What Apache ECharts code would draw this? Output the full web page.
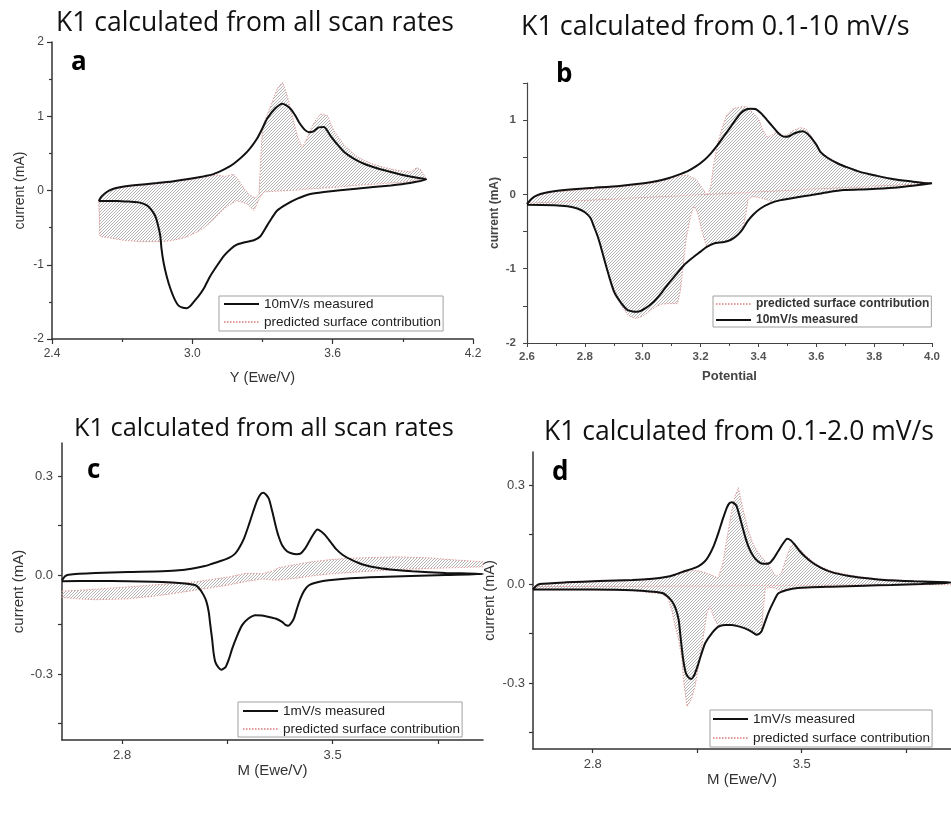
<!DOCTYPE html>
<html>
<head>
<meta charset="utf-8">
<script src="https://cdn.jsdelivr.net/npm/echarts@6/dist/echarts.min.js"></script>
<style>
  html, body { margin: 0; padding: 0; background: #fff; overflow: hidden; }
  #chart { width: 951px; height: 819px; }
</style>
</head>
<body>
<div id="chart"></div>
<script>
// ---- Cyclic voltammograms: measured loop [potential V, current mA] ----
const aMeasured = [
  [2.600,-0.14],[2.612,-0.08],[2.634,-0.02],[2.660,0.02],[2.690,0.045],[2.750,0.07],[2.849,0.10],[2.920,0.125],
  [2.990,0.157],[3.040,0.185],[3.090,0.22],[3.140,0.29],[3.177,0.36],[3.234,0.52],[3.277,0.70],[3.300,0.84],
  [3.320,0.97],[3.356,1.11],[3.385,1.17],[3.400,1.15],[3.420,1.10],[3.440,1.01],[3.456,0.92],[3.480,0.82],
  [3.499,0.785],[3.520,0.80],[3.540,0.85],[3.563,0.855],[3.590,0.74],[3.620,0.62],[3.649,0.52],[3.690,0.43],
  [3.734,0.36],[3.790,0.30],[3.849,0.25],[3.920,0.195],[3.990,0.157],[4.000,0.15],
  [3.930,0.10],[3.849,0.067],[3.700,0.025],[3.563,-0.02],[3.500,-0.05],[3.449,-0.11],[3.400,-0.19],[3.363,-0.27],
  [3.340,-0.37],[3.320,-0.47],[3.290,-0.62],[3.263,-0.67],[3.220,-0.70],[3.190,-0.73],[3.163,-0.79],[3.135,-0.88],
  [3.106,-1.01],[3.075,-1.16],[3.049,-1.32],[3.025,-1.43],[3.006,-1.50],[2.990,-1.56],[2.977,-1.585],[2.960,-1.58],
  [2.941,-1.55],[2.925,-1.47],[2.906,-1.32],[2.890,-1.15],[2.877,-0.97],[2.868,-0.78],[2.863,-0.61],[2.852,-0.45],
  [2.841,-0.34],[2.825,-0.26],[2.806,-0.20],[2.770,-0.16],[2.734,-0.15],[2.680,-0.14],[2.600,-0.14]
];
const aPredicted = [
  [2.600,-0.14],[2.612,-0.09],[2.634,-0.03],[2.660,0.01],[2.690,0.035],[2.750,0.06],[2.849,0.09],[2.950,0.13],
  [3.040,0.17],[3.100,0.21],[3.140,0.19],[3.177,0.22],[3.200,0.13],[3.220,0.03],[3.245,-0.06],[3.270,-0.10],
  [3.285,-0.05],[3.292,0.40],[3.300,0.85],[3.320,1.02],[3.340,1.18],[3.363,1.37],[3.385,1.46],[3.400,1.34],
  [3.420,1.10],[3.434,0.92],[3.450,0.72],[3.470,0.58],[3.490,0.70],[3.506,0.83],[3.530,0.96],[3.549,1.03],
  [3.577,1.01],[3.606,0.80],[3.649,0.61],[3.706,0.45],[3.760,0.37],[3.820,0.31],[3.880,0.27],[3.934,0.25],
  [3.960,0.31],[3.977,0.28],[4.000,0.16],
  [3.900,0.11],[3.800,0.09],[3.706,0.07],[3.600,0.04],[3.500,0.02],[3.420,0.00],[3.350,-0.01],[3.306,-0.02],
  [3.290,-0.09],[3.263,-0.27],[3.234,-0.18],[3.190,-0.135],[3.160,-0.19],[3.134,-0.25],[3.100,-0.36],[3.077,-0.43],
  [3.050,-0.50],[3.020,-0.56],[2.980,-0.62],[2.949,-0.65],[2.900,-0.68],[2.849,-0.69],[2.780,-0.69],[2.706,-0.67],
  [2.650,-0.64],[2.606,-0.62],[2.600,-0.60],[2.600,-0.14]
];

const bMeasured = [
  [2.600,-0.13],[2.615,-0.06],[2.636,-0.01],[2.660,0.02],[2.693,0.044],[2.760,0.07],[2.832,0.09],[2.920,0.115],
  [3.004,0.15],[3.050,0.18],[3.085,0.215],[3.120,0.26],[3.154,0.31],[3.185,0.38],[3.212,0.46],[3.235,0.55],
  [3.258,0.66],[3.280,0.78],[3.304,0.91],[3.320,1.00],[3.338,1.09],[3.355,1.14],[3.373,1.155],[3.390,1.15],
  [3.410,1.09],[3.430,1.00],[3.450,0.91],[3.465,0.84],[3.480,0.79],[3.494,0.775],[3.510,0.79],[3.523,0.82],
  [3.552,0.85],[3.565,0.83],[3.580,0.775],[3.600,0.67],[3.615,0.57],[3.640,0.49],[3.673,0.42],[3.710,0.36],
  [3.753,0.30],[3.810,0.25],[3.868,0.205],[3.930,0.175],[3.984,0.15],[4.000,0.15],
  [3.940,0.12],[3.868,0.09],[3.780,0.07],[3.696,0.058],[3.640,0.03],[3.580,-0.01],[3.530,-0.04],[3.477,-0.077],
  [3.440,-0.12],[3.407,-0.19],[3.380,-0.28],[3.361,-0.37],[3.345,-0.47],[3.327,-0.55],[3.305,-0.61],[3.281,-0.64],
  [3.246,-0.66],[3.220,-0.71],[3.200,-0.77],[3.170,-0.86],[3.143,-0.95],[3.115,-1.08],[3.085,-1.22],[3.060,-1.35],
  [3.039,-1.44],[3.010,-1.53],[2.981,-1.58],[2.965,-1.575],[2.947,-1.555],[2.925,-1.46],[2.901,-1.31],[2.885,-1.12],
  [2.866,-0.86],[2.855,-0.70],[2.843,-0.55],[2.830,-0.42],[2.820,-0.32],[2.800,-0.24],[2.774,-0.19],[2.740,-0.16],
  [2.693,-0.145],[2.600,-0.14]
];
const bPredicted = [
  [2.600,-0.13],[2.615,-0.07],[2.636,-0.02],[2.660,0.01],[2.693,0.03],[2.760,0.055],[2.832,0.075],[2.920,0.10],
  [3.004,0.135],[3.050,0.165],[3.085,0.20],[3.120,0.245],[3.154,0.26],[3.185,0.20],[3.205,0.09],[3.223,-0.01],
  [3.235,0.10],[3.245,0.40],[3.260,0.70],[3.275,0.90],[3.290,1.07],[3.310,1.15],[3.338,1.18],[3.360,1.18],
  [3.380,1.10],[3.400,1.02],[3.415,0.87],[3.430,0.775],[3.445,0.79],[3.460,0.84],[3.480,0.80],[3.494,0.79],
  [3.520,0.86],[3.545,0.90],[3.565,0.88],[3.580,0.80],[3.600,0.68],[3.615,0.58],[3.640,0.50],[3.673,0.43],
  [3.710,0.365],[3.753,0.305],[3.810,0.255],[3.868,0.21],[3.930,0.178],[4.000,0.152],
  [3.940,0.12],[3.868,0.09],[3.780,0.07],[3.696,0.058],[3.640,0.03],[3.580,-0.01],[3.530,-0.04],[3.477,-0.077],
  [3.450,-0.10],[3.420,-0.06],[3.400,-0.04],[3.380,-0.03],[3.365,-0.06],[3.355,-0.30],[3.345,-0.47],[3.327,-0.55],
  [3.305,-0.61],[3.281,-0.64],[3.246,-0.66],[3.220,-0.69],[3.205,-0.50],[3.190,-0.25],[3.177,-0.16],[3.165,-0.30],
  [3.150,-0.60],[3.140,-0.95],[3.130,-1.30],[3.120,-1.47],[3.090,-1.47],[3.060,-1.48],[3.030,-1.55],[3.000,-1.64],
  [2.975,-1.67],[2.950,-1.63],[2.930,-1.52],[2.910,-1.36],[2.885,-1.12],[2.866,-0.86],[2.855,-0.70],[2.843,-0.55],
  [2.830,-0.42],[2.820,-0.32],[2.800,-0.24],[2.774,-0.19],[2.740,-0.16],[2.693,-0.145],[2.600,-0.14]
];
const bSweepLine = [[2.600,-0.12],[4.000,0.15]];

const cMeasured = [
  [2.600,-0.016],[2.610,-0.004],[2.622,0.001],[2.711,0.006],[2.820,0.009],[2.933,0.011],[3.000,0.015],[3.044,0.021],
  [3.075,0.027],[3.099,0.034],[3.130,0.043],[3.155,0.052],[3.175,0.064],[3.188,0.080],[3.205,0.11],[3.221,0.151],
  [3.235,0.19],[3.249,0.226],[3.260,0.244],[3.269,0.249],[3.278,0.244],[3.288,0.231],[3.300,0.19],[3.310,0.151],
  [3.320,0.118],[3.332,0.09],[3.348,0.072],[3.365,0.065],[3.380,0.063],[3.393,0.065],[3.408,0.08],[3.421,0.10],
  [3.435,0.122],[3.449,0.138],[3.462,0.132],[3.476,0.12],[3.493,0.10],[3.510,0.08],[3.535,0.06],[3.565,0.045],
  [3.600,0.032],[3.654,0.021],[3.710,0.015],[3.765,0.011],[3.876,0.006],[3.975,0.004],[4.000,0.003],
  [3.876,0.000],[3.760,-0.003],[3.654,-0.006],[3.560,-0.010],[3.487,-0.016],[3.450,-0.022],[3.421,-0.031],[3.405,-0.048],
  [3.393,-0.071],[3.382,-0.10],[3.371,-0.132],[3.360,-0.148],[3.352,-0.154],[3.343,-0.151],[3.332,-0.142],[3.310,-0.132],
  [3.288,-0.127],[3.265,-0.123],[3.243,-0.122],[3.220,-0.132],[3.199,-0.152],[3.182,-0.185],[3.166,-0.223],[3.155,-0.255],
  [3.144,-0.279],[3.130,-0.287],[3.120,-0.28],[3.110,-0.264],[3.104,-0.235],[3.099,-0.193],[3.093,-0.15],[3.088,-0.112],
  [3.080,-0.08],[3.071,-0.061],[3.058,-0.043],[3.044,-0.031],[3.000,-0.025],[2.933,-0.021],[2.820,-0.019],[2.711,-0.018],
  [2.600,-0.019]
];
const cPredicted = [
  [2.600,-0.049],[2.711,-0.043],[2.822,-0.036],[2.933,-0.028],[3.044,-0.021],[3.100,-0.013],[3.155,-0.006],[3.210,0.005],
  [3.266,0.004],[3.300,0.012],[3.321,0.022],[3.377,0.032],[3.430,0.040],[3.487,0.046],[3.540,0.050],[3.598,0.052],
  [3.709,0.055],[3.820,0.052],[3.900,0.046],[4.000,0.040],
  [4.000,0.025],[3.900,0.022],[3.820,0.020],[3.709,0.016],[3.598,0.010],[3.487,0.003],[3.430,-0.003],[3.377,-0.010],
  [3.310,-0.016],[3.266,-0.012],[3.210,-0.020],[3.155,-0.030],[3.100,-0.038],[3.044,-0.046],[2.933,-0.061],[2.822,-0.072],
  [2.711,-0.075],[2.650,-0.072],[2.600,-0.068],[2.600,-0.049]
];

const dMeasured = [
  [2.600,-0.017],[2.610,-0.006],[2.622,0.000],[2.711,0.005],[2.820,0.009],[2.933,0.012],[3.000,0.016],[3.044,0.021],
  [3.075,0.028],[3.099,0.036],[3.130,0.045],[3.155,0.054],[3.175,0.068],[3.188,0.084],[3.205,0.115],[3.221,0.155],
  [3.235,0.195],[3.249,0.231],[3.257,0.244],[3.265,0.248],[3.273,0.245],[3.282,0.236],[3.295,0.195],[3.310,0.145],
  [3.323,0.11],[3.338,0.084],[3.352,0.07],[3.365,0.062],[3.380,0.061],[3.393,0.064],[3.408,0.08],[3.421,0.099],
  [3.437,0.122],[3.451,0.137],[3.464,0.132],[3.476,0.12],[3.493,0.10],[3.510,0.084],[3.535,0.065],[3.565,0.049],
  [3.600,0.036],[3.654,0.025],[3.710,0.018],[3.765,0.013],[3.876,0.008],[3.987,0.005],[4.000,0.004],
  [3.900,0.000],[3.800,-0.003],[3.709,-0.005],[3.600,-0.008],[3.487,-0.012],[3.450,-0.018],[3.421,-0.029],[3.405,-0.055],
  [3.388,-0.088],[3.376,-0.118],[3.365,-0.144],[3.357,-0.151],[3.349,-0.154],[3.338,-0.148],[3.321,-0.139],[3.295,-0.13],
  [3.266,-0.124],[3.243,-0.124],[3.221,-0.129],[3.200,-0.148],[3.177,-0.179],[3.163,-0.215],[3.149,-0.255],[3.138,-0.28],
  [3.130,-0.288],[3.120,-0.282],[3.112,-0.27],[3.105,-0.24],[3.099,-0.20],[3.093,-0.15],[3.088,-0.109],[3.078,-0.075],
  [3.066,-0.053],[3.050,-0.037],[3.033,-0.027],[2.933,-0.019],[2.800,-0.017],[2.600,-0.017]
];
const dPredicted = [
  [2.600,-0.016],[2.610,-0.007],[2.622,-0.002],[2.711,0.003],[2.820,0.007],[2.933,0.010],[3.000,0.014],[3.044,0.019],
  [3.075,0.026],[3.099,0.033],[3.130,0.042],[3.155,0.040],[3.190,0.030],[3.220,0.018],[3.235,0.06],[3.250,0.14],
  [3.265,0.22],[3.278,0.27],[3.288,0.292],[3.300,0.24],[3.320,0.165],[3.338,0.12],[3.354,0.095],[3.372,0.075],
  [3.388,0.059],[3.405,0.035],[3.415,0.023],[3.432,0.033],[3.445,0.07],[3.454,0.095],[3.465,0.115],[3.476,0.124],
  [3.493,0.106],[3.510,0.089],[3.543,0.064],[3.565,0.052],[3.600,0.039],[3.654,0.028],[3.710,0.020],[3.765,0.015],
  [3.876,0.009],[3.987,0.005],[4.000,0.004],
  [3.900,0.000],[3.800,-0.003],[3.709,-0.005],[3.600,-0.008],[3.487,-0.012],[3.450,-0.016],[3.430,-0.020],[3.410,-0.012],
  [3.390,-0.010],[3.378,-0.015],[3.372,-0.07],[3.365,-0.144],[3.357,-0.151],[3.349,-0.154],[3.338,-0.148],[3.321,-0.139],
  [3.295,-0.13],[3.266,-0.124],[3.243,-0.124],[3.221,-0.129],[3.205,-0.10],[3.193,-0.068],[3.182,-0.09],[3.172,-0.15],
  [3.160,-0.22],[3.143,-0.31],[3.130,-0.35],[3.116,-0.372],[3.105,-0.30],[3.099,-0.23],[3.088,-0.17],[3.076,-0.128],
  [3.065,-0.08],[3.054,-0.047],[3.033,-0.030],[2.933,-0.020],[2.800,-0.018],[2.600,-0.018]
];
const dSweepLine = [[2.600,-0.008],[4.000,-0.002]];

// ---- Text ----
const titles = [
  'K1 calculated from all scan rates',
  'K1 calculated from 0.1-10 mV/s',
  'K1 calculated from all scan rates',
  'K1 calculated from 0.1-2.0 mV/s'
];
const panelLetters = ['a', 'b', 'c', 'd'];
const fastName = '10mV/s measured';
const slowName = '1mV/s measured';
const surfaceName = 'predicted surface contribution';
const xNames = ['Y (Ewe/V)', 'Potential', 'M (Ewe/V)', 'M (Ewe/V)'];
const yName = 'current (mA)';
const cdXTicks = [2.8, 3.15, 3.5, 3.85];
const cdXLabels = [2.8, 3.5];
const cdYTicks = [-0.45, -0.3, -0.15, 0, 0.15, 0.3];
const cdYLabels = [-0.3, 0, 0.3];

// diagonal hatch tile for the surface-contribution area
function hatchTile() {
  const c = document.createElement('canvas');
  c.width = 3; c.height = 3;
  const g = c.getContext('2d');
  g.strokeStyle = '#a2a2a2';
  g.lineWidth = 0.8;
  g.beginPath();
  g.moveTo(0, 3); g.lineTo(3, 0);
  g.moveTo(-1, 1); g.lineTo(1, -1);
  g.moveTo(2, 4); g.lineTo(4, 2);
  g.stroke();
  return c;
}
const hatch = hatchTile();

const SANS = 'Liberation Sans';
const HEAD = 'Open Sans';
const PINK = '#e49a9a';

function hatchSeries(idx, pts) {
  return {
    type: 'custom', xAxisIndex: idx, yAxisIndex: idx, silent: true, z: 1,
    data: [pts[0]],
    renderItem: function (params, api) {
      return {
        type: 'polygon',
        shape: { points: pts.map(function (p) { return api.coord(p); }) },
        style: { fill: { image: hatch, repeat: 'repeat' }, stroke: null }
      };
    }
  };
}
function pinkLine(idx, name, pts) {
  return {
    type: 'line', name: name, xAxisIndex: idx, yAxisIndex: idx, data: pts,
    symbol: 'none', silent: true, z: 2,
    lineStyle: { color: PINK, width: 1, type: [1.5, 1.5] },
    itemStyle: { color: PINK }
  };
}
function blackLine(idx, name, pts) {
  return {
    type: 'line', name: name, xAxisIndex: idx, yAxisIndex: idx, data: pts,
    symbol: 'none', silent: true, z: 3, smooth: 0.2,
    lineStyle: { color: '#111', width: 2 },
    itemStyle: { color: '#111' }
  };
}
function legendBox(names, left, top, pad, gap, itemH, font) {
  return {
    data: names, orient: 'vertical', left: left, top: top, padding: pad,
    itemGap: gap, itemWidth: 35, itemHeight: itemH, selectedMode: false,
    itemStyle: { opacity: 0 },
    borderColor: '#a0a0a0', borderWidth: 1, borderRadius: 0,
    textStyle: font
  };
}

const grids = [
  { left: 52, top: 42, width: 421, height: 297 },
  { left: 527, top: 83, width: 405, height: 260 },
  { left: 62, top: 443, width: 421, height: 297 },
  { left: 533, top: 452, width: 421, height: 297 }
];

const regText = { fontFamily: SANS, color: '#444' };
const bText = { fontFamily: SANS, color: '#555', fontWeight: 'bold' };
const fix1 = function (v) { return (+v).toFixed(1); };

const xAxes = [
  { gridIndex: 0, type: 'value', min: 2.4, max: 4.2, interval: 0.6,
    name: xNames[0], nameLocation: 'middle', nameGap: 31,
    nameTextStyle: { fontFamily: SANS, fontSize: 14.5, color: '#333' },
    axisLine: { onZero: false, lineStyle: { color: '#333', width: 1.5 } },
    axisTick: { length: 5, lineStyle: { color: '#333', width: 1.2 } },
    minorTick: { show: true, splitNumber: 2, length: 3, lineStyle: { color: '#333', width: 1.2 } },
    axisLabel: Object.assign({ fontSize: 12, margin: 9, formatter: fix1 }, regText),
    splitLine: { show: false } },
  { gridIndex: 1, type: 'value', min: 2.6, max: 4.0, interval: 0.2,
    name: xNames[1], nameLocation: 'middle', nameGap: 27,
    nameTextStyle: { fontFamily: SANS, fontSize: 13, color: '#444', fontWeight: 'bold' },
    axisLine: { onZero: false, lineStyle: { color: '#444', width: 1.2 } },
    axisTick: { length: 4, lineStyle: { color: '#444', width: 1 } },
    minorTick: { show: true, splitNumber: 2, length: 3, lineStyle: { color: '#444', width: 1 } },
    axisLabel: Object.assign({ fontSize: 11.5, margin: 8, formatter: fix1 }, bText),
    splitLine: { show: false } },
  { gridIndex: 2, type: 'value', min: 2.6, max: 4.0,
    name: xNames[2], nameLocation: 'middle', nameGap: 23,
    nameTextStyle: { fontFamily: SANS, fontSize: 15, color: '#333' },
    axisLine: { onZero: false, lineStyle: { color: '#333', width: 1.5 } },
    axisTick: { length: 4, customValues: cdXTicks, lineStyle: { color: '#333', width: 1.2 } },
    axisLabel: Object.assign({ fontSize: 13, margin: 9, customValues: cdXLabels, formatter: fix1 }, regText),
    splitLine: { show: false } },
  { gridIndex: 3, type: 'value', min: 2.6, max: 4.0,
    name: xNames[3], nameLocation: 'middle', nameGap: 21,
    nameTextStyle: { fontFamily: SANS, fontSize: 15, color: '#333' },
    axisLine: { onZero: false, lineStyle: { color: '#333', width: 1.5 } },
    axisTick: { length: 4, customValues: cdXTicks, lineStyle: { color: '#333', width: 1.2 } },
    axisLabel: Object.assign({ fontSize: 13, margin: 9, customValues: cdXLabels, formatter: fix1 }, regText),
    splitLine: { show: false } }
];

const yAxes = [
  { gridIndex: 0, type: 'value', min: -2, max: 2, interval: 1,
    name: yName, nameLocation: 'middle', nameGap: 25,
    nameTextStyle: { fontFamily: SANS, fontSize: 14, color: '#333' },
    axisLine: { onZero: false, lineStyle: { color: '#333', width: 1.5 } },
    axisTick: { length: 5, lineStyle: { color: '#333', width: 1.2 } },
    minorTick: { show: true, splitNumber: 2, length: 3, lineStyle: { color: '#333', width: 1.2 } },
    axisLabel: Object.assign({ fontSize: 12, margin: 8 }, regText),
    splitLine: { show: false } },
  { gridIndex: 1, type: 'value', min: -2, max: 1.5, interval: 0.5,
    name: yName, nameLocation: 'middle', nameGap: 26,
    nameTextStyle: { fontFamily: SANS, fontSize: 12, color: '#444', fontWeight: 'bold' },
    axisLine: { onZero: false, lineStyle: { color: '#444', width: 1.2 } },
    axisTick: { length: 4, lineStyle: { color: '#444', width: 1 } },
    axisLabel: Object.assign({ fontSize: 11.5, margin: 11,
      formatter: function (v) { return Number.isInteger(+v) ? String(v) : ''; } }, bText),
    splitLine: { show: false } },
  { gridIndex: 2, type: 'value', min: -0.5, max: 0.4,
    name: yName, nameLocation: 'middle', nameGap: 34,
    nameTextStyle: { fontFamily: SANS, fontSize: 15, color: '#333' },
    axisLine: { onZero: false, lineStyle: { color: '#333', width: 1.5 } },
    axisTick: { length: 4, customValues: cdYTicks, lineStyle: { color: '#333', width: 1.2 } },
    axisLabel: Object.assign({ fontSize: 13, margin: 9, customValues: cdYLabels, formatter: fix1 }, regText),
    splitLine: { show: false } },
  { gridIndex: 3, type: 'value', min: -0.5, max: 0.4,
    name: yName, nameLocation: 'middle', nameGap: 36,
    nameTextStyle: { fontFamily: SANS, fontSize: 14.5, color: '#333' },
    axisLine: { onZero: false, lineStyle: { color: '#333', width: 1.5 } },
    axisTick: { length: 4, customValues: cdYTicks, lineStyle: { color: '#333', width: 1.2 } },
    axisLabel: Object.assign({ fontSize: 13, margin: 8, customValues: cdYLabels, formatter: fix1 }, regText),
    splitLine: { show: false } }
];

const headStyle = function (size) {
  return { fontFamily: HEAD, fontSize: size, fontWeight: 'normal', color: '#111' };
};
const letterStyle = { fontFamily: HEAD, fontSize: 26, fontWeight: 'bold', color: '#000' };

const option = {
  backgroundColor: '#fff',
  animation: false,
  title: [
    { text: titles[0], left: 56, top: 10, padding: 0, textStyle: headStyle(26.5) },
    { text: titles[1], left: 521, top: 14, padding: 0, textStyle: headStyle(26.9) },
    { text: titles[2], left: 74, top: 416, padding: 0, textStyle: headStyle(25.3) },
    { text: titles[3], left: 544, top: 419, padding: 0, textStyle: headStyle(26.5) },
    { text: panelLetters[0], left: 71, top: 50, padding: 0, textStyle: letterStyle },
    { text: panelLetters[1], left: 556, top: 62, padding: 0, textStyle: letterStyle },
    { text: panelLetters[2], left: 87, top: 458, padding: 0, textStyle: letterStyle },
    { text: panelLetters[3], left: 552, top: 460, padding: 0, textStyle: letterStyle }
  ],
  legend: [
    legendBox([fastName, surfaceName], 219, 296, [1, 2, 2, 4], 4, 14,
      { fontFamily: SANS, fontSize: 13.5, color: '#222' }),
    legendBox([surfaceName, fastName], 713, 296, [2, 2, 1, 2], 4, 12,
      { fontFamily: SANS, fontSize: 12, color: '#333', fontWeight: 'bold' }),
    legendBox([slowName, surfaceName], 238, 702, [2, 2, 1, 4], 4, 14,
      { fontFamily: SANS, fontSize: 13.5, color: '#222' }),
    legendBox([slowName, surfaceName], 710, 710, [2, 2, 2, 2], 5, 14,
      { fontFamily: SANS, fontSize: 13.5, color: '#222' })
  ],
  grid: grids,
  xAxis: xAxes,
  yAxis: yAxes,
  series: [
    hatchSeries(0, aPredicted), pinkLine(0, surfaceName, aPredicted), blackLine(0, fastName, aMeasured),
    hatchSeries(1, bPredicted), pinkLine(1, surfaceName, bPredicted), pinkLine(1, 'sweep', bSweepLine),
    blackLine(1, fastName, bMeasured),
    hatchSeries(2, cPredicted), pinkLine(2, surfaceName, cPredicted), blackLine(2, slowName, cMeasured),
    hatchSeries(3, dPredicted), pinkLine(3, surfaceName, dPredicted), pinkLine(3, 'sweep ', dSweepLine),
    blackLine(3, slowName, dMeasured)
  ]
};

const chart = echarts.init(document.getElementById('chart'), null, { renderer: 'canvas' });
chart.setOption(option);
</script>
</body>
</html>
